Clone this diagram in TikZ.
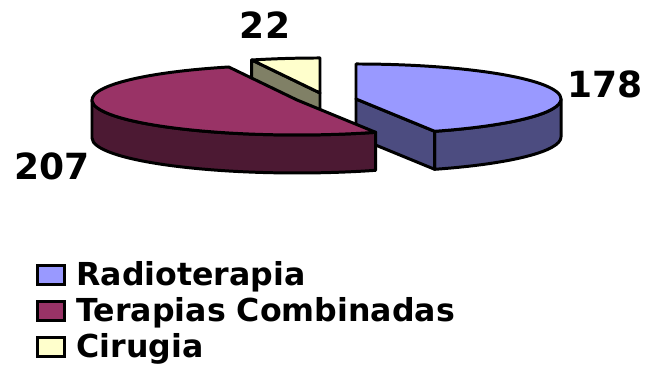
\documentclass[tikz,border=0pt]{standalone}
\usepackage{fontspec}
\setmainfont{DejaVu Sans}
\usetikzlibrary{positioning}
\definecolor{radio}{HTML}{9999FF}
\definecolor{radiodark}{HTML}{4C4C80}
\definecolor{combi}{HTML}{993366}
\definecolor{combidark}{HTML}{4C1933}
\definecolor{ciru}{HTML}{FFFFCC}
\definecolor{cirudark}{HTML}{808066}
\begin{document}
\begin{tikzpicture}[x=0.02cm,y=0.02cm,
    slice/.style={draw=black,line width=1.7pt,line join=round},
    value/.style={font=\bfseries\fontsize{20.5}{20.5}\selectfont,inner sep=0pt},
    key/.style={draw=black,line width=1.5pt,minimum width=0.53cm,minimum height=0.37cm,inner sep=0pt},
    entry/.style={font=\bfseries\fontsize{18}{18}\selectfont,inner sep=0pt}]
    \useasboundingbox (0,0) rectangle (649,377);
    \coordinate (C) at (320,284);\coordinate (B) at (356,278);\coordinate (M) at (297,277);
    % Cirugia, behind
    \filldraw[slice,fill=cirudark] (C) -- ++(109.46:205 and 35) -- ++(0,-38) -- ++(-70.54:205 and 35) -- cycle;
    \filldraw[slice,fill=ciru] (C) -- ++(90:205 and 35) arc[start angle=90,end angle=109.46,x radius=205,y radius=35] -- cycle;
    % Radioterapia
    \filldraw[slice,fill=radiodark] (B) ++(0:205 and 35) arc[start angle=0,end angle=-67.44,x radius=205,y radius=35] -- ++(0,-38) arc[start angle=-67.44,end angle=0,x radius=205,y radius=35] -- cycle;
    \filldraw[slice,fill=radiodark] (B) -- ++(-67.44:205 and 35) -- ++(0,-38) -- ++(112.56:205 and 35) -- cycle;
    \filldraw[slice,fill=radio] (B) -- ++(90:205 and 35) arc[start angle=90,end angle=-67.44,x radius=205,y radius=35] -- cycle;
    % Terapias Combinadas, in front
    \filldraw[slice,fill=combidark] (M) ++(180:205 and 35) arc[start angle=180,end angle=292.56,x radius=205,y radius=35] -- ++(0,-38) arc[start angle=292.56,end angle=180,x radius=205,y radius=35] -- cycle;
    \filldraw[slice,fill=combi] (M) -- ++(109.46:205 and 35) arc[start angle=109.46,end angle=292.56,x radius=205,y radius=35] -- cycle;
    % values
    \node[value] (vRadio) at (605,293) {178};
    \node[value] (vCombi) at (52,211) {207};
    \node[value] (vCiru) at (265,352) {22};
    % legend
    \node[key,fill=radio] (kRadio) at (51,102) {};
    \node[key,fill=combi] (kCombi) at (51,66) {};
    \node[key,fill=ciru] (kCiru) at (51,30) {};
    \node[entry,right=6pt of kRadio,yshift=-1pt] (tRadio) {Radioterapia};
    \node[entry,right=6pt of kCombi,yshift=-1pt] (tCombi) {Terapias Combinadas};
    \node[entry,right=6pt of kCiru,yshift=-1pt] (tCiru) {Cirugia};
\end{tikzpicture}
\end{document}
